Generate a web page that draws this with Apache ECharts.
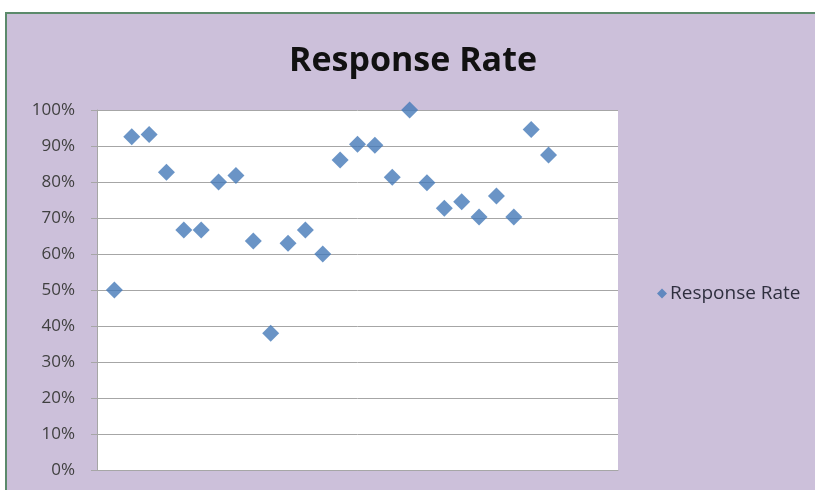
<!DOCTYPE html>
<html>
<head>
<meta charset="utf-8">
<script src="https://cdn.jsdelivr.net/npm/echarts@6/dist/echarts.min.js"></script>
<style>
  html, body { margin: 0; padding: 0; background: #ffffff; }
  .frame {
    position: absolute; left: 5px; top: 12px; width: 810px; height: 478px;
    border-left: 2px solid #5b8a6b; border-top: 2px solid #5b8a6b;
    background: #ccc0da; box-sizing: border-box;
  }
  #chart { position: absolute; left: 0; top: 0; width: 815px; height: 490px; }
</style>
</head>
<body>
<div class="frame"></div>
<div id="chart"></div>
<script>
  // survey index (x) and response rate in % (y)
  var pointIndex = [1, 2, 3, 4, 5, 6, 7, 8, 9, 10, 11, 12, 13,
                    14, 15, 16, 17, 18, 19, 20, 21, 22, 23, 24, 25, 26]
  var responseRate = [50, 92.6, 93.2, 82.7, 66.7, 66.7, 80, 81.8, 63.6, 38, 63, 66.7, 60,
                      86.1, 90.5, 90.2, 81.3, 100, 79.8, 72.7, 74.5, 70.3, 76.1, 70.3, 94.6, 87.5]
  var yTicks = [0, 10, 20, 30, 40, 50, 60, 70, 80, 90, 100]

  var seriesData = []
  for (var i = 0; i < pointIndex.length; i++) {
    seriesData.push([pointIndex[i], responseRate[i]])
  }

  var chart = echarts.init(document.getElementById('chart'), null, { renderer: 'canvas' })
  var option = {
    backgroundColor: 'transparent',
    animation: false,
    title: {
      text: 'Response Rate',
      left: 284, top: 39,
      textStyle: { fontFamily: 'Open Sans', fontWeight: 'bold', fontSize: 34, color: '#111' }
    },
    legend: {
      data: [{ name: 'Response Rate', icon: 'diamond' }],
      left: 652, top: 279,
      itemWidth: 10, itemHeight: 10, itemGap: 4,
      textStyle: { fontFamily: 'Open Sans', fontSize: 19, color: '#2f2f3f', padding: [0, 0, 0, -2] }
    },
    grid: { left: 97, right: 197, top: 110, bottom: 20, show: true, backgroundColor: '#ffffff', borderWidth: 0 },
    xAxis: {
      type: 'value', min: 0, max: 30,
      axisLine: { show: true, lineStyle: { color: '#a6a6a6' } },
      axisTick: { show: false },
      axisLabel: { show: false },
      splitLine: { show: false }
    },
    yAxis: {
      type: 'value', min: yTicks[0], max: yTicks[yTicks.length - 1], interval: 10,
      axisLine: { show: true, lineStyle: { color: '#a6a6a6' } },
      axisTick: { show: true, length: 6, lineStyle: { color: '#a6a6a6' } },
      axisLabel: {
        margin: 22,
        formatter: '{value}%',
        fontFamily: 'Open Sans', fontSize: 17, color: '#404040'
      },
      splitLine: { show: true, lineStyle: { color: '#a6a6a6', width: 1 } }
    },
    series: [{
      name: 'Response Rate',
      type: 'scatter',
      symbol: 'diamond',
      symbolSize: 17,
      itemStyle: { color: '#4579b8' },
      data: seriesData
    }]
  }
  chart.setOption(option)
</script>
</body>
</html>
